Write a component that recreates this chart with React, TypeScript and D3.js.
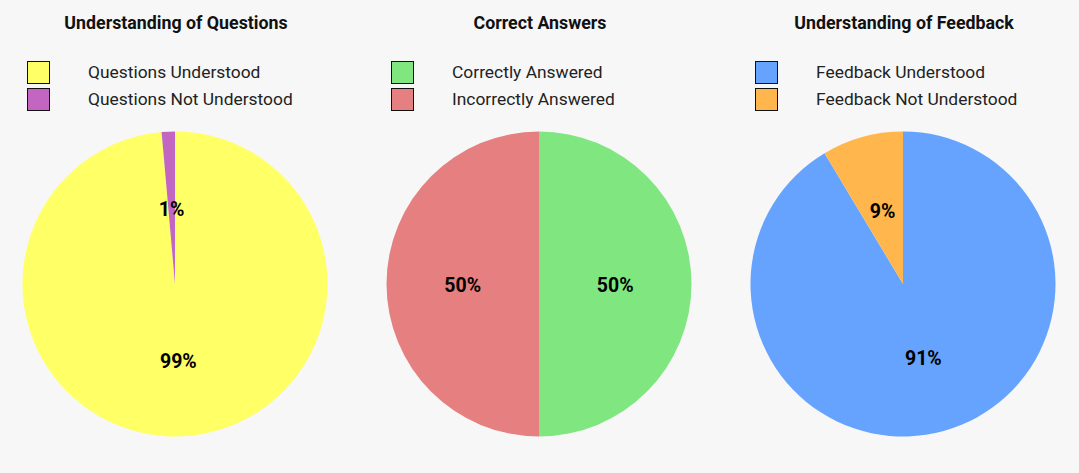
import React from 'react';
import * as d3 from 'd3';

const titles = ['Understanding of Questions', 'Correct Answers', 'Understanding of Feedback'];
const sliceLabels = [
  ['Questions Understood', 'Questions Not Understood'],
  ['Correctly Answered', 'Incorrectly Answered'],
  ['Feedback Understood', 'Feedback Not Understood'],
];
const sliceValues = [
  [98.6, 1.4],
  [50, 50],
  [91.4, 8.6],
];
const sliceColors = [
  ['#ffff66', '#c266c2'],
  ['#80e680', '#e68080'],
  ['#66a3ff', '#ffb74d'],
];

const W = 1079, H = 473;
const font = 'Roboto, "Noto Sans", sans-serif';

const Pie = ({ idx, cx }: { idx: number; cx: number }) => {
  const radius = 152.5;
  const cy = 284;
  const vals = sliceValues[idx];
  const total = d3.sum(vals);
  const pie = d3.pie<number>().sort(null).value(d => d);
  const arc = d3.arc<d3.PieArcDatum<number>>().innerRadius(0).outerRadius(radius);
  const arcs = pie(vals);
  return (
    <g>
      <text x={cx + 1} y={29} textAnchor="middle" fontFamily={font} fontWeight="bold" fontSize={17.8} fill="#111">
        {titles[idx]}
      </text>
      {sliceLabels[idx].map((lab, i) => (
        <g key={lab}>
          <rect x={cx - 147.5} y={61.5 + i * 27} width={22} height={22} fill={sliceColors[idx][i]} stroke="#111" strokeWidth={1} />
          <text x={cx - 87} y={78 + i * 27} fontFamily={font} fontSize={17.4} fill="#222">{lab}</text>
        </g>
      ))}
      <g transform={`translate(${cx},${cy})`}>
        {arcs.map((a, i) => (
          <path key={i} d={arc(a) || ''} fill={sliceColors[idx][i]} />
        ))}
        {arcs.map((a, i) => {
          const [x, y] = arc.centroid(a);
          return (
            <text key={'t' + i} x={x} y={y} dy="0.4em" textAnchor="middle" fontFamily={font} fontWeight="bold" fontSize={19.5} fill="#000">
              {Math.round((a.data / total) * 100)}%
            </text>
          );
        })}
      </g>
    </g>
  );
};

export default function App() {
  const centers = [175, 539, 903];
  return (
    <svg width={W} height={H} style={{ position: 'absolute', left: 0, top: 0, background: '#f7f7f7' }}>
      <rect width={W} height={H} fill="#f7f7f7" />
      {centers.map((c, i) => <Pie key={i} idx={i} cx={c} />)}
    </svg>
  );
}
